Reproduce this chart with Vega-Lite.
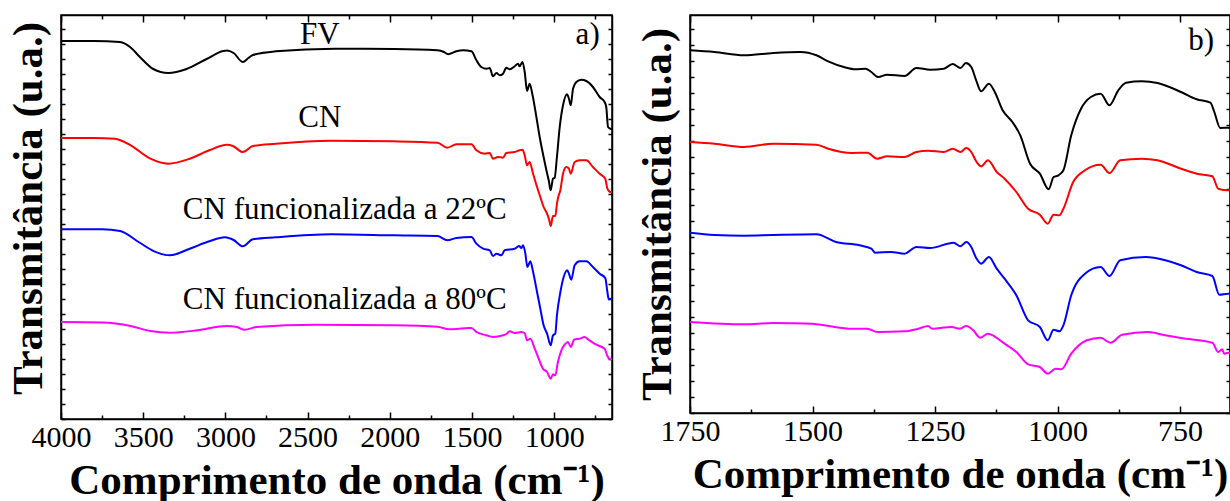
{
  "$schema": "https://vega.github.io/schema/vega-lite/v6.json",
  "padding": {"left": 6, "top": 13, "right": 0, "bottom": 0},
  "background": "white",
  "spacing": 18,
  "datasets": {
    "a": [
      {"s":"FV","wn":4000,"t":378},{"s":"FV","wn":3800,"t":378},{"s":"FV","wn":3641,"t":377},{"s":"FV","wn":3580,"t":372},{"s":"FV","wn":3520,"t":362},{"s":"FV","wn":3439,"t":350},{"s":"FV","wn":3348,"t":346},{"s":"FV","wn":3236,"t":350},{"s":"FV","wn":3114,"t":360},{"s":"FV","wn":3013,"t":368},{"s":"FV","wn":2990,"t":368.5},{"s":"FV","wn":2950,"t":366},{"s":"FV","wn":2894,"t":357},{"s":"FV","wn":2860,"t":361},{"s":"FV","wn":2833,"t":364},{"s":"FV","wn":2693,"t":367.7},{"s":"FV","wn":2334,"t":370.3},{"s":"FV","wn":1973,"t":370},{"s":"FV","wn":1710,"t":368.7},{"s":"FV","wn":1670,"t":367},{"s":"FV","wn":1645,"t":364.7},{"s":"FV","wn":1595,"t":367.7},{"s":"FV","wn":1554,"t":368.7},{"s":"FV","wn":1503,"t":367.7},{"s":"FV","wn":1473,"t":358.7},{"s":"FV","wn":1443,"t":352},{"s":"FV","wn":1412,"t":350.3},{"s":"FV","wn":1392,"t":351},{"s":"FV","wn":1372,"t":342.7},{"s":"FV","wn":1351,"t":346},{"s":"FV","wn":1331,"t":343.7},{"s":"FV","wn":1311,"t":345.3},{"s":"FV","wn":1291,"t":351.3},{"s":"FV","wn":1270,"t":349.7},{"s":"FV","wn":1240,"t":352.7},{"s":"FV","wn":1220,"t":355.3},{"s":"FV","wn":1210,"t":352.7},{"s":"FV","wn":1193,"t":357},{"s":"FV","wn":1179,"t":347},{"s":"FV","wn":1165,"t":328},{"s":"FV","wn":1149,"t":335.3},{"s":"FV","wn":1133,"t":325.3},{"s":"FV","wn":1108,"t":302},{"s":"FV","wn":1088,"t":282},{"s":"FV","wn":1064,"t":262},{"s":"FV","wn":1047,"t":248.7},{"s":"FV","wn":1033,"t":238.7},{"s":"FV","wn":1021,"t":228.7},{"s":"FV","wn":1007,"t":240.3},{"s":"FV","wn":997,"t":241},{"s":"FV","wn":983,"t":262},{"s":"FV","wn":966,"t":292},{"s":"FV","wn":946,"t":313.7},{"s":"FV","wn":922,"t":324.7},{"s":"FV","wn":910,"t":320.3},{"s":"FV","wn":899,"t":313.7},{"s":"FV","wn":885,"t":330.3},{"s":"FV","wn":865,"t":337},{"s":"FV","wn":835,"t":339.3},{"s":"FV","wn":804,"t":338},{"s":"FV","wn":764,"t":332},{"s":"FV","wn":723,"t":322},{"s":"FV","wn":693,"t":317},{"s":"FV","wn":683,"t":312},{"s":"FV","wn":672,"t":292},{"s":"FV","wn":658,"t":290.3},{"s":"FV","wn":648,"t":290},
      {"s":"CN","wn":4000,"t":281},{"s":"CN","wn":3800,"t":281},{"s":"CN","wn":3672,"t":280.3},{"s":"CN","wn":3576,"t":273.7},{"s":"CN","wn":3456,"t":260.3},{"s":"CN","wn":3349,"t":255.3},{"s":"CN","wn":3217,"t":260.3},{"s":"CN","wn":3098,"t":268.7},{"s":"CN","wn":2991,"t":274.3},{"s":"CN","wn":2954,"t":273},{"s":"CN","wn":2894,"t":267},{"s":"CN","wn":2833,"t":273},{"s":"CN","wn":2693,"t":275.3},{"s":"CN","wn":2358,"t":278.3},{"s":"CN","wn":1973,"t":277.7},{"s":"CN","wn":1710,"t":276.3},{"s":"CN","wn":1650,"t":271.3},{"s":"CN","wn":1595,"t":274.7},{"s":"CN","wn":1503,"t":274.7},{"s":"CN","wn":1473,"t":268.7},{"s":"CN","wn":1422,"t":265.3},{"s":"CN","wn":1392,"t":266},{"s":"CN","wn":1372,"t":260.3},{"s":"CN","wn":1341,"t":262},{"s":"CN","wn":1311,"t":261.3},{"s":"CN","wn":1291,"t":266},{"s":"CN","wn":1240,"t":267},{"s":"CN","wn":1210,"t":268.7},{"s":"CN","wn":1193,"t":269.3},{"s":"CN","wn":1179,"t":263.7},{"s":"CN","wn":1165,"t":253.7},{"s":"CN","wn":1149,"t":257},{"s":"CN","wn":1128,"t":245.3},{"s":"CN","wn":1104,"t":232},{"s":"CN","wn":1084,"t":222},{"s":"CN","wn":1064,"t":212},{"s":"CN","wn":1043,"t":205.3},{"s":"CN","wn":1030,"t":199},{"s":"CN","wn":1021,"t":193},{"s":"CN","wn":1007,"t":203},{"s":"CN","wn":993,"t":203},{"s":"CN","wn":983,"t":215},{"s":"CN","wn":975,"t":222},{"s":"CN","wn":962,"t":229},{"s":"CN","wn":946,"t":245.3},{"s":"CN","wn":926,"t":252},{"s":"CN","wn":910,"t":250.3},{"s":"CN","wn":899,"t":245.3},{"s":"CN","wn":875,"t":257},{"s":"CN","wn":845,"t":258.7},{"s":"CN","wn":804,"t":258.7},{"s":"CN","wn":764,"t":252},{"s":"CN","wn":723,"t":245.3},{"s":"CN","wn":689,"t":240.3},{"s":"CN","wn":676,"t":230.3},{"s":"CN","wn":658,"t":227},{"s":"CN","wn":648,"t":227},
      {"s":"22","wn":4000,"t":189.7},{"s":"22","wn":3750,"t":189.7},{"s":"22","wn":3640,"t":188},{"s":"22","wn":3528,"t":177},{"s":"22","wn":3433,"t":167.7},{"s":"22","wn":3337,"t":163.7},{"s":"22","wn":3217,"t":170.3},{"s":"22","wn":3098,"t":177.7},{"s":"22","wn":3003,"t":181.7},{"s":"22","wn":2950,"t":179},{"s":"22","wn":2894,"t":172.7},{"s":"22","wn":2833,"t":179.7},{"s":"22","wn":2693,"t":181.7},{"s":"22","wn":2358,"t":184.7},{"s":"22","wn":1973,"t":183.7},{"s":"22","wn":1710,"t":183},{"s":"22","wn":1650,"t":178.7},{"s":"22","wn":1595,"t":181},{"s":"22","wn":1503,"t":182},{"s":"22","wn":1473,"t":175.3},{"s":"22","wn":1432,"t":170.3},{"s":"22","wn":1392,"t":168.7},{"s":"22","wn":1372,"t":163},{"s":"22","wn":1351,"t":165.3},{"s":"22","wn":1321,"t":163.7},{"s":"22","wn":1301,"t":168.7},{"s":"22","wn":1240,"t":170.3},{"s":"22","wn":1214,"t":173},{"s":"22","wn":1199,"t":171},{"s":"22","wn":1189,"t":173.7},{"s":"22","wn":1175,"t":165.3},{"s":"22","wn":1163,"t":152},{"s":"22","wn":1145,"t":157.7},{"s":"22","wn":1128,"t":147},{"s":"22","wn":1104,"t":127},{"s":"22","wn":1084,"t":110.3},{"s":"22","wn":1064,"t":93.7},{"s":"22","wn":1043,"t":85.3},{"s":"22","wn":1021,"t":73.7},{"s":"22","wn":1007,"t":83.7},{"s":"22","wn":993,"t":85.3},{"s":"22","wn":983,"t":103.7},{"s":"22","wn":962,"t":127},{"s":"22","wn":942,"t":142},{"s":"22","wn":920,"t":148.7},{"s":"22","wn":910,"t":145.3},{"s":"22","wn":896,"t":139.3},{"s":"22","wn":875,"t":153.7},{"s":"22","wn":845,"t":157.7},{"s":"22","wn":804,"t":157.7},{"s":"22","wn":764,"t":152},{"s":"22","wn":723,"t":145.3},{"s":"22","wn":689,"t":141},{"s":"22","wn":676,"t":127},{"s":"22","wn":668,"t":119.7},{"s":"22","wn":658,"t":120.3},{"s":"22","wn":648,"t":120},
      {"s":"80","wn":4000,"t":97},{"s":"80","wn":3750,"t":96.5},{"s":"80","wn":3576,"t":93},{"s":"80","wn":3456,"t":88},{"s":"80","wn":3337,"t":86.3},{"s":"80","wn":3170,"t":88.7},{"s":"80","wn":2991,"t":93},{"s":"80","wn":2930,"t":92},{"s":"80","wn":2883,"t":89.3},{"s":"80","wn":2811,"t":92},{"s":"80","wn":2452,"t":94.3},{"s":"80","wn":1973,"t":93.7},{"s":"80","wn":1710,"t":92.3},{"s":"80","wn":1638,"t":89.7},{"s":"80","wn":1520,"t":91},{"s":"80","wn":1503,"t":91},{"s":"80","wn":1473,"t":87},{"s":"80","wn":1412,"t":83.7},{"s":"80","wn":1372,"t":82},{"s":"80","wn":1311,"t":83.7},{"s":"80","wn":1290,"t":85},{"s":"80","wn":1270,"t":87.7},{"s":"80","wn":1240,"t":86},{"s":"80","wn":1199,"t":87},{"s":"80","wn":1179,"t":85.7},{"s":"80","wn":1165,"t":78.7},{"s":"80","wn":1145,"t":80.3},{"s":"80","wn":1118,"t":70.3},{"s":"80","wn":1094,"t":60.3},{"s":"80","wn":1068,"t":50.3},{"s":"80","wn":1043,"t":47},{"s":"80","wn":1021,"t":40.3},{"s":"80","wn":1007,"t":44.7},{"s":"80","wn":993,"t":43.7},{"s":"80","wn":977,"t":57},{"s":"80","wn":956,"t":68.7},{"s":"80","wn":936,"t":74.3},{"s":"80","wn":916,"t":77},{"s":"80","wn":899,"t":72},{"s":"80","wn":879,"t":79.3},{"s":"80","wn":845,"t":80.3},{"s":"80","wn":814,"t":82},{"s":"80","wn":794,"t":79.7},{"s":"80","wn":743,"t":74.3},{"s":"80","wn":693,"t":70.3},{"s":"80","wn":676,"t":63},{"s":"80","wn":658,"t":59.7},{"s":"80","wn":648,"t":59.7}
    ],
    "b": [
      {"s":"FV","wn":1750,"t":362.7},{"s":"FV","wn":1700,"t":361},{"s":"FV","wn":1640,"t":357.7},{"s":"FV","wn":1580,"t":360},{"s":"FV","wn":1524,"t":361},{"s":"FV","wn":1492,"t":357.7},{"s":"FV","wn":1468,"t":351.7},{"s":"FV","wn":1436,"t":346},{"s":"FV","wn":1412,"t":343.7},{"s":"FV","wn":1392,"t":344.3},{"s":"FV","wn":1380,"t":341},{"s":"FV","wn":1366,"t":336},{"s":"FV","wn":1348,"t":338.3},{"s":"FV","wn":1312,"t":337},{"s":"FV","wn":1288,"t":345},{"s":"FV","wn":1260,"t":343.3},{"s":"FV","wn":1232,"t":344.3},{"s":"FV","wn":1214,"t":349},{"s":"FV","wn":1198,"t":345},{"s":"FV","wn":1187,"t":350},{"s":"FV","wn":1176,"t":346},{"s":"FV","wn":1166,"t":332.7},{"s":"FV","wn":1156,"t":321.7},{"s":"FV","wn":1140,"t":329.3},{"s":"FV","wn":1128,"t":321},{"s":"FV","wn":1112,"t":302.7},{"s":"FV","wn":1092,"t":291},{"s":"FV","wn":1076,"t":277.7},{"s":"FV","wn":1056,"t":249.3},{"s":"FV","wn":1036,"t":239.3},{"s":"FV","wn":1018,"t":223.7},{"s":"FV","wn":1008,"t":236},{"s":"FV","wn":998,"t":237.7},{"s":"FV","wn":988,"t":242.7},{"s":"FV","wn":972,"t":277.7},{"s":"FV","wn":952,"t":304.3},{"s":"FV","wn":932,"t":316},{"s":"FV","wn":912,"t":319.3},{"s":"FV","wn":894,"t":307.7},{"s":"FV","wn":876,"t":322.7},{"s":"FV","wn":860,"t":330.3},{"s":"FV","wn":828,"t":331.7},{"s":"FV","wn":796,"t":330},{"s":"FV","wn":748,"t":321},{"s":"FV","wn":716,"t":313.7},{"s":"FV","wn":688,"t":310.3},{"s":"FV","wn":680,"t":301},{"s":"FV","wn":668,"t":285},{"s":"FV","wn":652,"t":285.3},{"s":"FV","wn":648,"t":285},
      {"s":"CN","wn":1750,"t":271},{"s":"CN","wn":1700,"t":269.3},{"s":"CN","wn":1640,"t":266},{"s":"CN","wn":1580,"t":269.3},{"s":"CN","wn":1492,"t":268.3},{"s":"CN","wn":1468,"t":264.3},{"s":"CN","wn":1420,"t":260},{"s":"CN","wn":1388,"t":260.3},{"s":"CN","wn":1368,"t":254.3},{"s":"CN","wn":1348,"t":256.7},{"s":"CN","wn":1312,"t":256},{"s":"CN","wn":1288,"t":261},{"s":"CN","wn":1264,"t":262.3},{"s":"CN","wn":1232,"t":261},{"s":"CN","wn":1214,"t":264.3},{"s":"CN","wn":1198,"t":261},{"s":"CN","wn":1186,"t":265},{"s":"CN","wn":1176,"t":261},{"s":"CN","wn":1166,"t":251.7},{"s":"CN","wn":1156,"t":246.7},{"s":"CN","wn":1142,"t":252.7},{"s":"CN","wn":1124,"t":241},{"s":"CN","wn":1108,"t":234.3},{"s":"CN","wn":1084,"t":221},{"s":"CN","wn":1060,"t":204.3},{"s":"CN","wn":1036,"t":198.3},{"s":"CN","wn":1020,"t":189.3},{"s":"CN","wn":1008,"t":198.3},{"s":"CN","wn":996,"t":197.7},{"s":"CN","wn":988,"t":204.3},{"s":"CN","wn":968,"t":231},{"s":"CN","wn":944,"t":242.7},{"s":"CN","wn":912,"t":248.3},{"s":"CN","wn":894,"t":240},{"s":"CN","wn":872,"t":252.7},{"s":"CN","wn":828,"t":254.3},{"s":"CN","wn":796,"t":252.7},{"s":"CN","wn":748,"t":244.3},{"s":"CN","wn":716,"t":239.3},{"s":"CN","wn":684,"t":236.7},{"s":"CN","wn":672,"t":224.3},{"s":"CN","wn":652,"t":222.7},{"s":"CN","wn":648,"t":222.7},
      {"s":"22","wn":1750,"t":180.3},{"s":"22","wn":1700,"t":178},{"s":"22","wn":1640,"t":177.3},{"s":"22","wn":1580,"t":178},{"s":"22","wn":1492,"t":178.7},{"s":"22","wn":1452,"t":171},{"s":"22","wn":1404,"t":167.7},{"s":"22","wn":1380,"t":164.3},{"s":"22","wn":1372,"t":160.3},{"s":"22","wn":1340,"t":161},{"s":"22","wn":1312,"t":159.3},{"s":"22","wn":1288,"t":166},{"s":"22","wn":1260,"t":165},{"s":"22","wn":1212,"t":170.3},{"s":"22","wn":1198,"t":166.7},{"s":"22","wn":1186,"t":171},{"s":"22","wn":1176,"t":166},{"s":"22","wn":1166,"t":155},{"s":"22","wn":1156,"t":149.3},{"s":"22","wn":1140,"t":156},{"s":"22","wn":1124,"t":144.3},{"s":"22","wn":1108,"t":134.3},{"s":"22","wn":1084,"t":117.7},{"s":"22","wn":1060,"t":92.7},{"s":"22","wn":1036,"t":86},{"s":"22","wn":1020,"t":72.7},{"s":"22","wn":1008,"t":83.3},{"s":"22","wn":996,"t":81.7},{"s":"22","wn":988,"t":87.7},{"s":"22","wn":972,"t":117.7},{"s":"22","wn":944,"t":139.3},{"s":"22","wn":912,"t":146},{"s":"22","wn":894,"t":137},{"s":"22","wn":872,"t":152.7},{"s":"22","wn":820,"t":156},{"s":"22","wn":780,"t":152.7},{"s":"22","wn":748,"t":147.7},{"s":"22","wn":716,"t":141},{"s":"22","wn":684,"t":137},{"s":"22","wn":670,"t":118.3},{"s":"22","wn":652,"t":119.3},{"s":"22","wn":648,"t":119.3},
      {"s":"80","wn":1750,"t":91},{"s":"80","wn":1640,"t":88.7},{"s":"80","wn":1580,"t":90},{"s":"80","wn":1500,"t":89.3},{"s":"80","wn":1468,"t":87},{"s":"80","wn":1420,"t":84.3},{"s":"80","wn":1388,"t":84.3},{"s":"80","wn":1368,"t":81},{"s":"80","wn":1312,"t":81.7},{"s":"80","wn":1284,"t":84.3},{"s":"80","wn":1264,"t":87},{"s":"80","wn":1256,"t":84.3},{"s":"80","wn":1216,"t":86},{"s":"80","wn":1200,"t":84.3},{"s":"80","wn":1186,"t":87},{"s":"80","wn":1172,"t":82.7},{"s":"80","wn":1158,"t":75.3},{"s":"80","wn":1142,"t":79.3},{"s":"80","wn":1108,"t":69.3},{"s":"80","wn":1084,"t":61},{"s":"80","wn":1060,"t":48.7},{"s":"80","wn":1036,"t":46},{"s":"80","wn":1020,"t":39.3},{"s":"80","wn":1004,"t":44.3},{"s":"80","wn":992,"t":43.7},{"s":"80","wn":972,"t":59.3},{"s":"80","wn":940,"t":72.7},{"s":"80","wn":912,"t":75.3},{"s":"80","wn":892,"t":70.3},{"s":"80","wn":868,"t":78.3},{"s":"80","wn":816,"t":81},{"s":"80","wn":780,"t":77.7},{"s":"80","wn":748,"t":75},{"s":"80","wn":684,"t":70.3},{"s":"80","wn":672,"t":61},{"s":"80","wn":664,"t":63.7},{"s":"80","wn":660,"t":59.3},{"s":"80","wn":652,"t":60.3},{"s":"80","wn":648,"t":60}
    ],
    "ta": [
      {"label":"FV","wn":2426,"t":375},
      {"label":"CN","wn":2426,"t":292},
      {"label":"CN funcionalizada a 22ºC","wn":2274,"t":200},
      {"label":"CN funcionalizada a 80ºC","wn":2274,"t":110},
      {"label":"a)","wn":796,"t":375}
    ],
    "tb": [
      {"label":"b)","wn":707,"t":363}
    ]
  },
  "hconcat": [
    {
      "width": 551,
      "height": 404,
      "resolve": {"axis": {"x": "independent", "y": "independent"}},
      "layer": [
        {
          "data": {"name": "a"},
          "mark": {"type": "line", "strokeWidth": 2, "interpolate": "monotone"},
          "encoding": {
            "x": {"field": "wn", "type": "quantitative",
              "scale": {"domain": [648, 4000], "reverse": true, "nice": false, "zero": false},
              "axis": {"orient": "bottom", "values": [4000,3750,3500,3250,3000,2750,2500,2250,2000,1750,1500,1250,1000,750],
                "format": "d", "labelOverlap": false, "labelFlush": false,
                "labelExpr": "datum.value % 500 === 0 ? datum.label : ''",
                "tickSize": {"condition": {"test": "datum.value % 500 === 0", "value": -7}, "value": -4},
                "labelPadding": 10, "title": "Comprimento de onda (cm⁻¹)", "titlePadding": 4}},
            "y": {"field": "t", "type": "quantitative",
              "scale": {"domain": [0, 404], "nice": false, "zero": false},
              "axis": {"orient": "left", "values": [0,15,30,45,60,75,90,105,120,135,150,165,180,195,210,225,240,255,270,285,300,315,330,345,360,375,390],
                "labels": false, "tickSize": -4, "title": "Transmitância (u.a.)", "titlePadding": 10, "titleY": 193}},
            "color": {"field": "s", "type": "nominal",
              "scale": {"domain": ["FV", "CN", "22", "80"], "range": ["#000000", "#ff0000", "#0000ff", "#ff00ff"]},
              "legend": null}
          }
        },
        {
          "data": {"name": "ta"},
          "mark": {"type": "text", "fontSize": 31, "font": "Liberation Serif", "color": "black", "align": "center", "baseline": "alphabetic"},
          "encoding": {
            "x": {"field": "wn", "type": "quantitative",
              "scale": {"domain": [648, 4000], "reverse": true, "nice": false, "zero": false},
              "axis": {"orient": "top", "values": [4000,3750,3500,3250,3000,2750,2500,2250,2000,1750,1500,1250,1000,750],
                "labels": false, "title": null,
                "tickSize": {"condition": {"test": "datum.value % 500 === 0", "value": -7}, "value": -4}}},
            "y": {"field": "t", "type": "quantitative",
              "scale": {"domain": [0, 404], "nice": false, "zero": false},
              "axis": {"orient": "right", "values": [0,15,30,45,60,75,90,105,120,135,150,165,180,195,210,225,240,255,270,285,300,315,330,345,360,375,390],
                "labels": false, "tickSize": -4, "title": null}},
            "text": {"field": "label"}
          }
        }
      ]
    },
    {
      "width": 540,
      "height": 398,
      "resolve": {"axis": {"x": "independent", "y": "independent"}},
      "layer": [
        {
          "data": {"name": "b"},
          "mark": {"type": "line", "strokeWidth": 2, "interpolate": "monotone"},
          "encoding": {
            "x": {"field": "wn", "type": "quantitative",
              "scale": {"domain": [648, 1750], "reverse": true, "nice": false, "zero": false},
              "axis": {"orient": "bottom", "values": [1750,1625,1500,1375,1250,1125,1000,875,750],
                "format": "d", "labelOverlap": false, "labelFlush": false,
                "labelExpr": "datum.value % 250 === 0 ? datum.label : ''",
                "tickSize": {"condition": {"test": "datum.value % 250 === 0", "value": -7}, "value": -4},
                "labelPadding": 10, "title": "Comprimento de onda (cm⁻¹)", "titlePadding": 4}},
            "y": {"field": "t", "type": "quantitative",
              "scale": {"domain": [0, 398], "nice": false, "zero": false},
              "axis": {"orient": "left", "values": [0,16,32,48,64,80,96,112,128,144,160,176,192,208,224,240,256,272,288,304,320,336,352,368,384],
                "labels": false, "tickSize": -4, "title": "Transmitância (u.a.)", "titlePadding": 10}},
            "color": {"field": "s", "type": "nominal",
              "scale": {"domain": ["FV", "CN", "22", "80"], "range": ["#000000", "#ff0000", "#0000ff", "#ff00ff"]},
              "legend": null}
          }
        },
        {
          "data": {"name": "tb"},
          "mark": {"type": "text", "fontSize": 31, "font": "Liberation Serif", "color": "black", "align": "center", "baseline": "alphabetic"},
          "encoding": {
            "x": {"field": "wn", "type": "quantitative",
              "scale": {"domain": [648, 1750], "reverse": true, "nice": false, "zero": false},
              "axis": {"orient": "top", "values": [1750,1625,1500,1375,1250,1125,1000,875,750],
                "labels": false, "title": null,
                "tickSize": {"condition": {"test": "datum.value % 250 === 0", "value": -7}, "value": -4}}},
            "y": {"field": "t", "type": "quantitative",
              "scale": {"domain": [0, 398], "nice": false, "zero": false},
              "axis": {"orient": "right", "values": [0,16,32,48,64,80,96,112,128,144,160,176,192,208,224,240,256,272,288,304,320,336,352,368,384],
                "labels": false, "tickSize": -4, "title": null}},
            "text": {"field": "label"}
          }
        }
      ]
    }
  ],
  "config": {
    "font": "Liberation Serif",
    "view": {"stroke": "black", "strokeWidth": 1.5},
    "axis": {
      "grid": false,
      "domainColor": "black", "domainWidth": 1.5,
      "tickColor": "black", "tickWidth": 1.5,
      "labelColor": "black", "labelFont": "Liberation Serif", "labelFontSize": 30,
      "titleColor": "black", "titleFont": "Liberation Serif", "titleFontSize": 43, "titleFontWeight": "bold"
    }
  }
}
